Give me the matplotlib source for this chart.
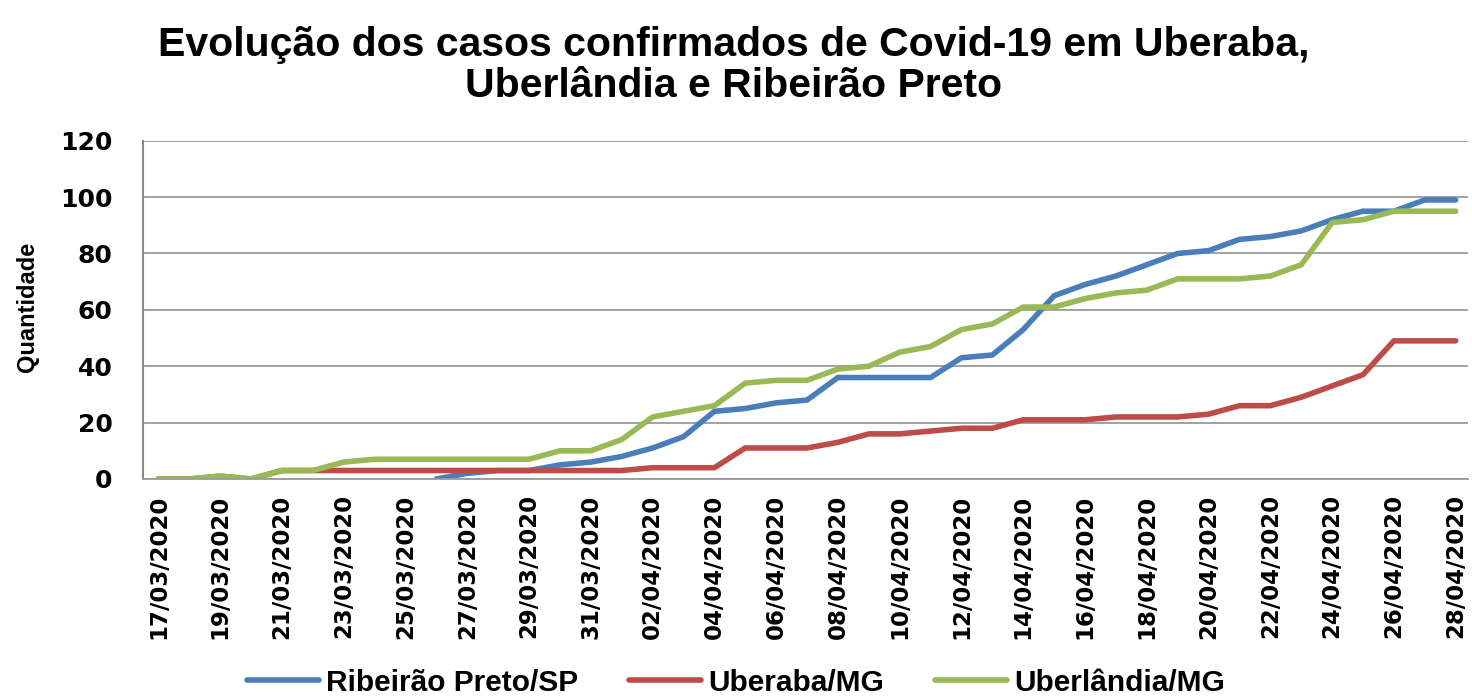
import matplotlib
matplotlib.use('Agg')
import matplotlib.pyplot as plt
from matplotlib import font_manager

# Data
dates = ['17/03/2020', '18/03/2020', '19/03/2020', '20/03/2020', '21/03/2020', '22/03/2020',
         '23/03/2020', '24/03/2020', '25/03/2020', '26/03/2020', '27/03/2020', '28/03/2020',
         '29/03/2020', '30/03/2020', '31/03/2020', '01/04/2020', '02/04/2020', '03/04/2020',
         '04/04/2020', '05/04/2020', '06/04/2020', '07/04/2020', '08/04/2020', '09/04/2020',
         '10/04/2020', '11/04/2020', '12/04/2020', '13/04/2020', '14/04/2020', '15/04/2020',
         '16/04/2020', '17/04/2020', '18/04/2020', '19/04/2020', '20/04/2020', '21/04/2020',
         '22/04/2020', '23/04/2020', '24/04/2020', '25/04/2020', '26/04/2020', '27/04/2020',
         '28/04/2020']

nan = float('nan')
ribeirao = [nan, nan, nan, nan, nan, nan, nan, nan, nan, 0, 2, 3, 3, 5, 6, 8, 11, 15, 24, 25,
            27, 28, 36, 36, 36, 36, 43, 44, 53, 65, 69, 72, 76, 80, 81, 85, 86, 88, 92, 95,
            95, 99, 99]
uberaba = [0, 0, 1, 0, 3, 3, 3, 3, 3, 3, 3, 3, 3, 3, 3, 3, 4, 4, 4, 11,
           11, 11, 13, 16, 16, 17, 18, 18, 21, 21, 21, 22, 22, 22, 23, 26, 26, 29, 33, 37,
           49, 49, 49]
uberlandia = [0, 0, 1, 0, 3, 3, 6, 7, 7, 7, 7, 7, 7, 10, 10, 14, 22, 24, 26, 34,
              35, 35, 39, 40, 45, 47, 53, 55, 61, 61, 64, 66, 67, 71, 71, 71, 72, 76, 91, 92,
              95, 95, 95]

series_names = ['Ribeirão Preto/SP', 'Uberaba/MG', 'Uberlândia/MG']
colors = ['#4A7EBB', '#BE4B48', '#98B954']

# Narrow font for title/legend if available
names = {f.name for f in font_manager.fontManager.ttflist}
narrow = 'Liberation Sans Narrow' if 'Liberation Sans Narrow' in names else 'Liberation Sans'

x = list(range(len(dates)))

fig = plt.figure(figsize=(14.72, 6.96), dpi=100)
ax = fig.add_axes([0.0971, 0.3118, 0.9002, 0.486])

for vals, name, c in zip([ribeirao, uberaba, uberlandia], series_names, colors):
    ax.plot(x, vals, color=c, linewidth=4, label=name, solid_capstyle='round')

ax.set_xlim(-0.5, 42.4)
ax.set_ylim(0, 120)
ax.set_yticks(range(0, 121, 20))
ax.yaxis.grid(True, color='#9a9a9a', linewidth=1.3)
ax.set_axisbelow(True)

ax.set_xticks(x[::2])
ax.set_xticklabels(dates[::2], rotation=90, fontsize=16.5, fontweight='bold', family='DejaVu Sans')
for lab in ax.get_yticklabels():
    lab.set_fontsize(18)
    lab.set_fontweight('bold')
    lab.set_family('DejaVu Sans')
ax.tick_params(axis='both', length=0)
ax.tick_params(axis='y', pad=22)
ax.tick_params(axis='x', pad=11)

for s in ['top', 'right']:
    ax.spines[s].set_visible(False)
ax.spines['left'].set_color('#8a8a8a')
ax.spines['left'].set_linewidth(1.5)
ax.spines['bottom'].set_color('#9a9a9a')
ax.spines['bottom'].set_linewidth(1.3)

fig.text(0.0185, 0.559, 'Quantidade', rotation=90, ha='center', va='center',
         fontsize=17, fontweight='bold', family=narrow)

fig.text(0.4986, 0.906, 'Evolução dos casos confirmados de Covid-19 em Uberaba,\nUberlândia e Ribeirão Preto',
         ha='center', va='center', fontsize=29.5, fontweight='bold', family=narrow, linespacing=1.1)

fig.legend(loc='center', bbox_to_anchor=(0.5, 0.019), ncol=3, frameon=False,
           prop={'family': narrow, 'weight': 'bold', 'size': 21.5},
           handlelength=2.4, handletextpad=0.25, columnspacing=1.7)

fig.savefig('out.png', dpi=100)
